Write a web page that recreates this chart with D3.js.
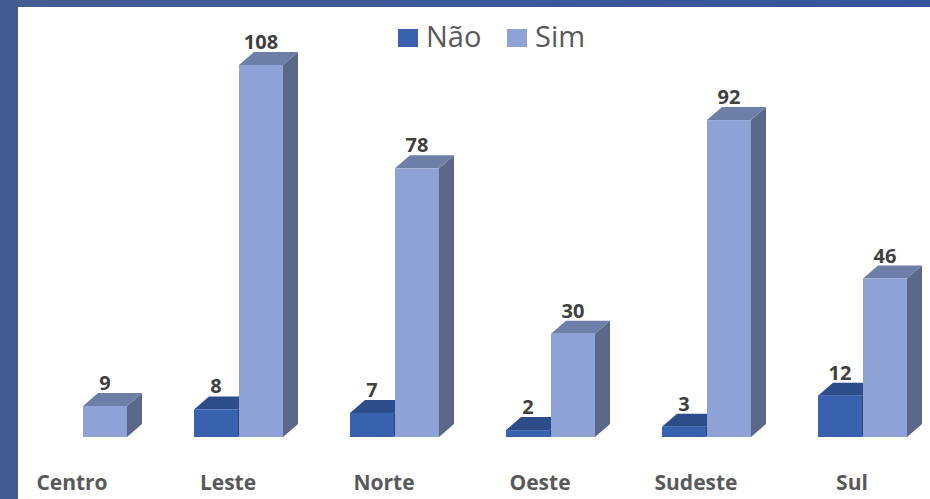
<!DOCTYPE html>
<html>
<head>
<meta charset="utf-8">
<script src="https://cdn.jsdelivr.net/npm/d3@7"></script>
<style>
  html, body { margin: 0; padding: 0; }
  body { width: 930px; height: 499px; overflow: hidden; font-family: "Open Sans", "Noto Sans", sans-serif; }
</style>
</head>
<body>
<script>
// values
var regioes = ["Centro", "Leste", "Norte", "Oeste", "Sudeste", "Sul"];
var nao = [0, 8, 7, 2, 3, 12];
var sim = [9, 108, 78, 30, 92, 46];
var series = ["Não", "Sim"];

var width = 930, height = 499;

var svg = d3.select("body").append("svg")
    .attr("width", width)
    .attr("height", height);

// blue frame round the chart
var defs = svg.append("defs");
var grad = defs.append("linearGradient").attr("id", "frame")
    .attr("x1", "0").attr("y1", "0").attr("x2", "1").attr("y2", "0");
grad.append("stop").attr("offset", "0").attr("stop-color", "#435d92");
grad.append("stop").attr("offset", "1").attr("stop-color", "#34559e");
svg.append("rect").attr("width", width).attr("height", height).attr("fill", "url(#frame)");
svg.append("rect").attr("x", 18).attr("y", 7).attr("width", width - 18).attr("height", height - 7).attr("fill", "#fff");

var y = d3.scaleLinear().domain([0, 108]).range([437, 65]);
var x = d3.scalePoint().domain(regioes).range([83, 863]);

var barW = 44, dx = 15, dy = 13;

var colors = {
  "Não": { front: "#3862ae", top: "#2d4d8a", side: "#284478" },
  "Sim": { front: "#8fa2d6", top: "#6d7fa9", side: "#5b688a" }
};

var rows = regioes.map(function(r, i) {
  return { regiao: r, values: [nao[i], sim[i]] };
});

var groups = svg.selectAll("g.regiao")
  .data(rows)
  .enter().append("g")
    .attr("class", "regiao");

function drawBar(g, x0, v, c) {
  var y0 = y(0), y1 = y(v);
  // side
  g.append("path")
    .attr("d", "M" + (x0 + barW) + "," + y0 + "L" + (x0 + barW + dx) + "," + (y0 - dy) +
               "L" + (x0 + barW + dx) + "," + (y1 - dy) + "L" + (x0 + barW) + "," + y1 + "Z")
    .attr("fill", c.side);
  // top
  g.append("path")
    .attr("d", "M" + x0 + "," + y1 + "L" + (x0 + dx) + "," + (y1 - dy) +
               "L" + (x0 + barW + dx) + "," + (y1 - dy) + "L" + (x0 + barW) + "," + y1 + "Z")
    .attr("fill", c.top);
  // front
  g.append("rect")
    .attr("x", x0).attr("y", y1)
    .attr("width", barW).attr("height", y0 - y1)
    .attr("fill", c.front);
}

groups.each(function(d) {
  var g = d3.select(this);
  var cx = x(d.regiao);
  d.values.forEach(function(v, k) {
    if (v <= 0) return;
    var x0 = k === 0 ? cx - barW - 1 : cx;
    drawBar(g, x0, v, colors[series[k]]);
  });
  d.values.forEach(function(v, k) {
    if (v <= 0) return;
    var x0 = k === 0 ? cx - barW - 1 : cx;
    g.append("text")
      .attr("x", x0 + barW / 2)
      .attr("y", y(v) - dy - 3)
      .attr("text-anchor", "middle")
      .attr("font-size", 20)
      .attr("font-weight", "bold")
      .attr("fill", "#404040")
      .text(v);
  });
  g.append("text")
    .attr("x", cx - 11)
    .attr("y", 490)
    .attr("text-anchor", "middle")
    .attr("font-size", 21)
    .attr("font-weight", "bold")
    .attr("fill", "#595959")
    .text(d.regiao);
});

// legend
var legX = [398, 507];
series.forEach(function(s, k) {
  svg.append("rect")
    .attr("x", legX[k]).attr("y", 29)
    .attr("width", 20).attr("height", 18)
    .attr("fill", colors[s].front);
  svg.append("text")
    .attr("x", legX[k] + 28)
    .attr("y", 47)
    .attr("font-size", 29)
    .attr("fill", "#595959")
    .text(s);
});
</script>
</body>
</html>
